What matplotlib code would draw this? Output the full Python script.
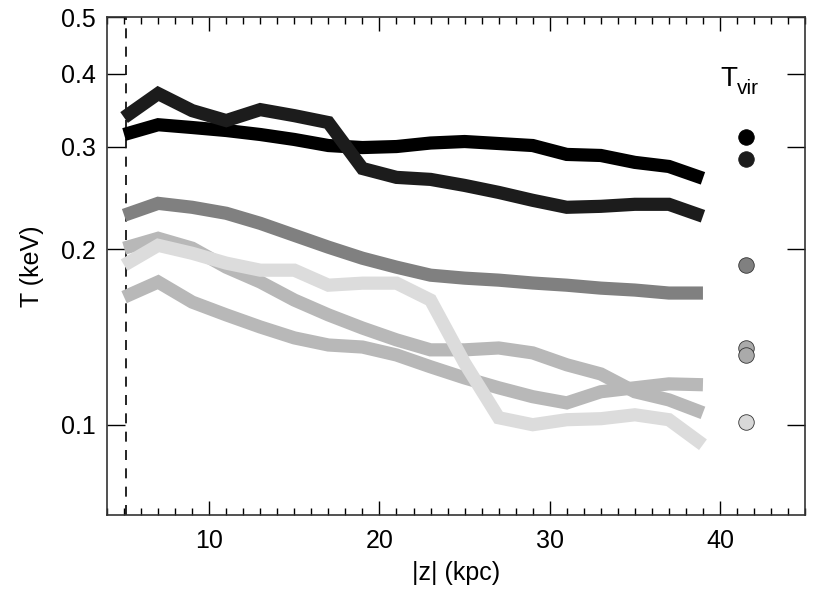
import matplotlib
matplotlib.use("Agg")
import matplotlib.pyplot as plt
from matplotlib.ticker import FixedLocator, MultipleLocator, NullLocator, NullFormatter

plt.rcParams['font.family'] = ['Liberation Sans', 'DejaVu Sans']

z = [5, 7, 9, 11, 13, 15, 17, 19, 21, 23, 25, 27, 29, 31, 33, 35, 37, 39]

T_black = [0.3146, 0.327, 0.3234, 0.3196, 0.3146, 0.3085, 0.3012, 0.2988, 0.300,
           0.3042, 0.306, 0.3036, 0.3012, 0.2908, 0.2896, 0.2818, 0.2773, 0.2646]
T_dark = [0.3364, 0.3698, 0.3457, 0.3324, 0.3471, 0.3389, 0.3298, 0.2751, 0.2656,
          0.2635, 0.2573, 0.2503, 0.2426, 0.236, 0.2369, 0.2388, 0.2388, 0.2278]
T_gray = [0.2287, 0.2397, 0.236, 0.2305, 0.2215, 0.2113, 0.2016, 0.1930, 0.1863,
          0.1805, 0.1784, 0.177, 0.175, 0.1735, 0.1715, 0.1702, 0.1682, 0.1682]
T_light1 = [0.2008, 0.2088, 0.2008, 0.1863, 0.1757, 0.1636, 0.1543, 0.1465, 0.1398,
            0.1344, 0.1344, 0.1354, 0.1328, 0.1267, 0.1222, 0.1139, 0.1103, 0.1048]
T_light2 = [0.1655, 0.1757, 0.1623, 0.1543, 0.1471, 0.1409, 0.137, 0.1359, 0.1317,
            0.1257, 0.1203, 0.1157, 0.1117, 0.109, 0.1139, 0.1157, 0.1175, 0.1171]
T_lightest = [0.1878, 0.2031, 0.1968, 0.1893, 0.1841, 0.1841, 0.1735, 0.1749, 0.1749,
              0.1636, 0.1276, 0.1028, 0.1, 0.102, 0.1024, 0.104, 0.102, 0.0924]

series = [T_black, T_dark, T_gray, T_light1, T_light2, T_lightest]
colors = ['#000000', '#1c1c1c', '#808080', '#b8b8b8', '#b8b8b8', '#dcdcdc']

Tvir_x = 41.5
Tvir = [0.311, 0.286, 0.1878, 0.1354, 0.1317, 0.1012]
Tvir_colors = ['#000000', '#1c1c1c', '#808080', '#aaaaaa', '#aaaaaa', '#d8d8d8']

z_min = 5.1

fig = plt.figure(figsize=(8.3, 5.93), dpi=100)
ax = fig.add_axes([0.129, 0.1315, 0.841, 0.8395])

for i in range(len(series)):
    ax.plot(z, series[i], color=colors[i], lw=9.5, solid_capstyle='butt',
            solid_joinstyle='miter', zorder=2 + i * 0.1)

for t, c in zip(Tvir, Tvir_colors):
    ax.scatter([Tvir_x], [t], s=125, color=c,
               edgecolors='#333333' if c not in ('#000000', '#1c1c1c') else c,
               linewidths=0.6, zorder=5)

ax.axvline(z_min, color='black', ls=(0, (6, 5)), lw=1.2, zorder=1)

ax.set_yscale('log')
ax.set_xlim(4, 45)
ax.set_ylim(0.07, 0.5)

ax.yaxis.set_major_locator(FixedLocator([0.1, 0.2, 0.3, 0.4, 0.5]))
ax.yaxis.set_minor_locator(NullLocator())
ax.yaxis.set_minor_formatter(NullFormatter())
ax.set_yticklabels(['0.1', '0.2', '0.3', '0.4', '0.5'])
ax.xaxis.set_major_locator(FixedLocator([10, 20, 30, 40]))
ax.xaxis.set_minor_locator(MultipleLocator(1))

ax.tick_params(axis='both', which='both', direction='in', top=True, right=True,
               labelsize=18, color='black', width=1.0)
ax.tick_params(axis='y', which='major', length=13, pad=8)
ax.tick_params(axis='x', which='major', length=10, pad=10)
ax.tick_params(axis='x', which='minor', length=5)

for s in ax.spines.values():
    s.set_linewidth(1.2)
    s.set_color('#333333')

ax.set_xlabel('|z| (kpc)', fontsize=18, labelpad=6)
ax.set_ylabel('T (keV)', fontsize=18, labelpad=12)

ax.text(0.879, 0.861, 'T', transform=ax.transAxes, fontsize=20, ha='left', va='baseline')
ax.text(0.902, 0.845, 'vir', transform=ax.transAxes, fontsize=15, ha='left', va='baseline')

fig.savefig('out.png', dpi=100)
